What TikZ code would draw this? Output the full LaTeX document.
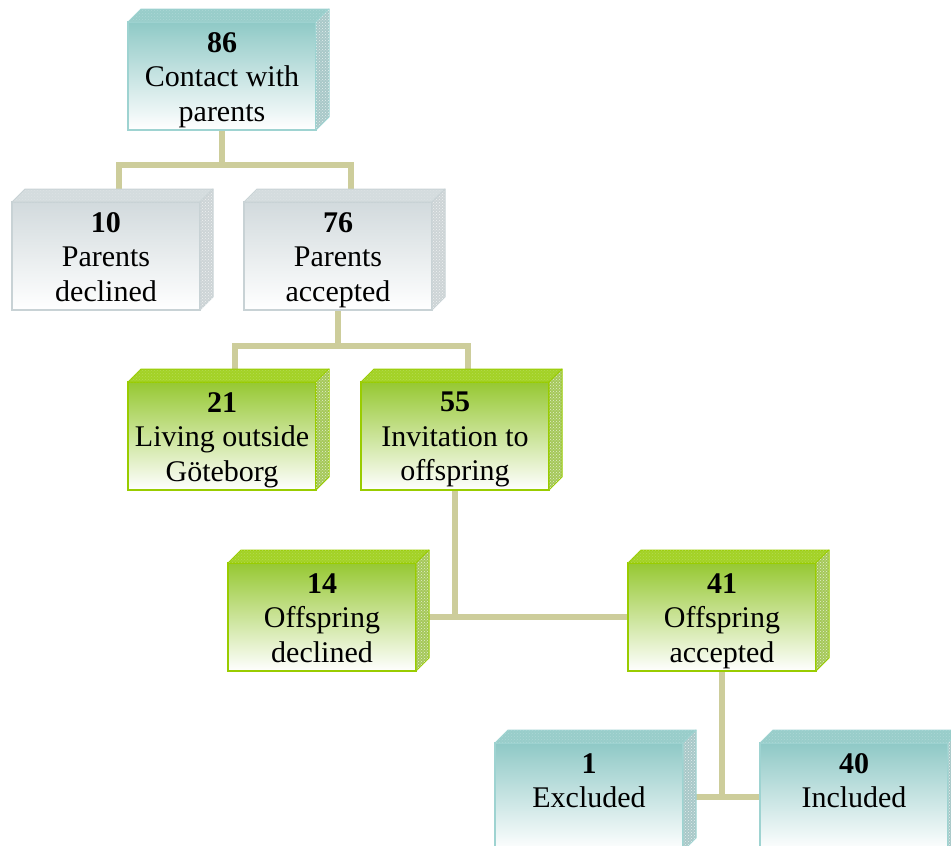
\documentclass[tikz,border=0pt]{standalone}
\usepackage{fontspec}
\setmainfont{Liberation Serif}
\usetikzlibrary{patterns,backgrounds}
\definecolor{conncol}{RGB}{205,205,155}
\definecolor{tealtop}{RGB}{143,201,198}
\definecolor{tealbd}{RGB}{158,211,209}
\definecolor{tealtf}{RGB}{152,205,202}
\definecolor{tealside}{RGB}{168,200,200}
\definecolor{greytop}{RGB}{210,218,221}
\definecolor{greybd}{RGB}{200,210,213}
\definecolor{greytf}{RGB}{212,220,222}
\definecolor{greyside}{RGB}{205,212,214}
\definecolor{greentop}{RGB}{150,200,50}
\definecolor{greenbd}{RGB}{153,204,0}
\definecolor{greentf}{RGB}{163,210,38}
\definecolor{greenside}{RGB}{165,200,90}
\tikzset{
  frontface/.style={minimum width=188pt, minimum height=108pt, inner sep=0pt, outer sep=0pt,
    draw=#1bd, line width=1.5pt, top color=#1top, bottom color=white},
  topface/.style={fill=#1tf, draw=#1bd, line width=1pt, line join=round,
    postaction={pattern=crosshatch dots, pattern color=white!20!#1tf}},
  sideface/.style={fill=#1side, draw=#1bd, line width=1pt, line join=round,
    postaction={pattern=crosshatch dots, pattern color=white!70!#1side}},
  boxtext/.style={align=center, inner sep=0pt, font=\fontsize{30}{34.5}\selectfont},
  conn/.style={draw=conncol, line width=6pt}
}
\newcommand\cuboid[6]{%
  \node[frontface=#4, anchor=north west] (#1) at (#2,#3) {};
  \path[topface=#4] (#1.north west) -- ++(13,-13) -- ([shift={(13,-13)}]#1.north east) -- (#1.north east) -- cycle;
  \path[sideface=#4] (#1.north east) -- ++(13,-13) -- ([shift={(13,-13)}]#1.south east) -- (#1.south east) -- cycle;
  \node[boxtext, anchor=north] (#1-t) at ([yshift=-10pt]#1.north) {\textbf{#5}\\#6};
  \coordinate (#1-top) at ([shift={(13,-13)}]#1.north);
}
\begin{document}
\begin{tikzpicture}[x=1pt,y=-1pt]
\useasboundingbox (0,0) rectangle (951,846);
\clip (0,0) rectangle (951,846);
\cuboid{b86}{128}{22}{teal}{86}{Contact with\\parents}
\cuboid{b10}{12}{202}{grey}{10}{Parents\\declined}
\cuboid{b76}{244}{202}{grey}{76}{Parents\\accepted}
\cuboid{b21}{128}{382}{green}{21}{Living outside\\Göteborg}
\cuboid{b55}{361}{382}{green}{55}{Invitation to\\offspring}
\cuboid{b14}{228}{563}{green}{14}{Offspring\\declined}
\cuboid{b41}{628}{563}{green}{41}{Offspring\\accepted}
\cuboid{b1}{495}{743}{teal}{1}{Excluded}
\cuboid{b40}{760}{743}{teal}{40}{Included}
\begin{scope}[on background layer]
  \draw[conn] (b10-top) -- ++(0,-24) -| (b86.south);
  \draw[conn] (b76-top) -- ++(0,-24) -| (b86.south);
  \draw[conn] (b21-top) -- ++(0,-23) -| (b76.south);
  \draw[conn] (b55-top) -- ++(0,-23) -| (b76.south);
  \draw[conn] (b14.east) -| (b55.south);
  \draw[conn] (b41.west) -| (b55.south);
  \draw[conn] (b1.east) -| (b41.south);
  \draw[conn] (b40.west) -| (b41.south);
\end{scope}
\end{tikzpicture}
\end{document}
